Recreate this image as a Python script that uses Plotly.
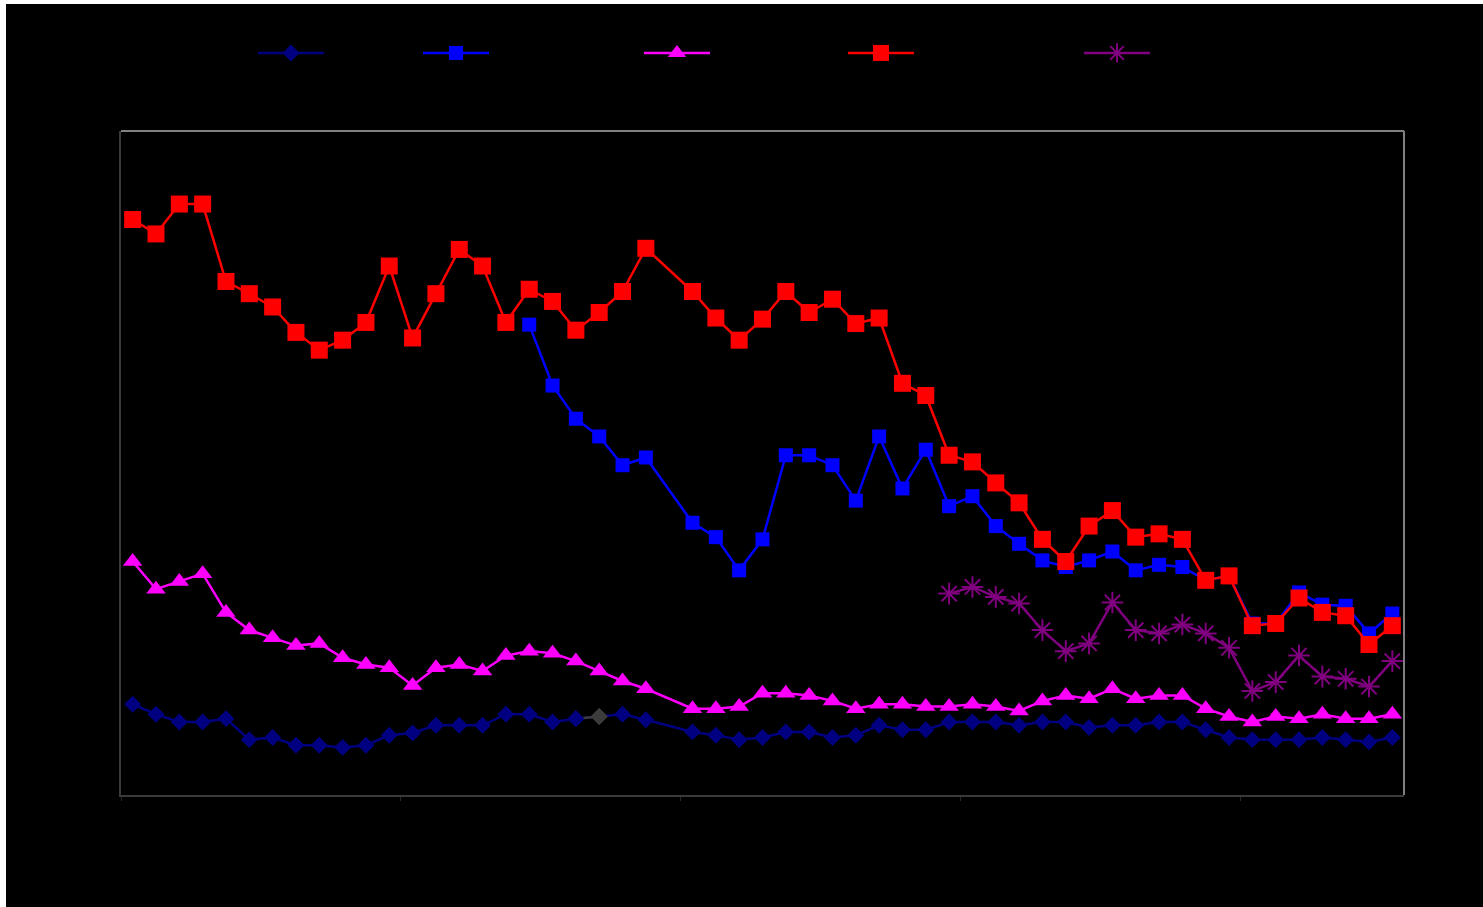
import plotly.graph_objects as go

# ---------------- data ----------------
periods = list(range(55))

series_names = ["Series 1", "Series 2", "Series 3", "Series 4", "Series 5"]

navy_vals = [8.2, 7.3, 6.6, 6.6, 6.9, 5.0, 5.2, 4.5, 4.5, 4.3,
             4.5, 5.4, 5.6, 6.3, 6.3, 6.3, 7.3, 7.3, 6.6, 6.9,
             7.1, 7.3, 6.8, None, 5.7, 5.4, 5.0, 5.2, 5.7, 5.7,
             5.2, 5.4, 6.3, 5.9, 5.9, 6.6, 6.6, 6.6, 6.3, 6.6,
             6.6, 6.1, 6.3, 6.3, 6.6, 6.6, 5.9, 5.2, 5.0, 5.0,
             5.0, 5.2, 5.0, 4.8, 5.2]

blue_vals = [None] * 17 + [42.5, 37.0, 34.0, 32.4, 29.8, 30.5, None,
             24.6, 23.3, 20.3, 23.1, 30.7, 30.7, 29.8, 26.6, 32.4, 27.7,
             31.2, 26.1, 27.0, 24.3, 22.7, 21.2, 20.6, 21.2, 22.0, 20.3,
             20.8, 20.6, 19.4, 19.8, 15.5, 15.5, 18.3, 17.2, 17.1, 14.6, 16.4]

magenta_vals = [21.1, 18.6, 19.3, 20.0, 16.5, 14.9, 14.2, 13.5, 13.7, 12.4,
                11.8, 11.5, 9.9, 11.5, 11.8, 11.2, 12.6, 13.0, 12.8, 12.1,
                11.2, 10.3, 9.6, None, 7.8, 7.8, 8.0, 9.2, 9.2, 9.0,
                8.5, 7.8, 8.2, 8.2, 8.0, 8.0, 8.2, 8.0, 7.6, 8.5,
                9.0, 8.7, 9.6, 8.7, 9.0, 9.0, 7.8, 7.1, 6.6, 7.1,
                6.9, 7.3, 6.9, 6.9, 7.3]

red_vals = [52.0, 50.7, 53.4, 53.4, 46.4, 45.3, 44.1, 41.8, 40.2, 41.1,
            42.7, 47.8, 41.3, 45.3, 49.3, 47.8, 42.7, 45.7, 44.6, 42.0,
            43.6, 45.5, 49.4, None, 45.5, 43.1, 41.1, 43.0, 45.5, 43.6,
            44.8, 42.6, 43.1, 37.2, 36.1, 30.7, 30.1, 28.2, 26.4, 23.1,
            21.1, 24.3, 25.7, 23.3, 23.6, 23.1, 19.4, 19.8, 15.3, 15.5,
            17.8, 16.5, 16.2, 13.6, 15.3]

purple_vals = [None] * 35 + [18.2, 18.8, 17.9, 17.3, 14.9, 13.0, 13.7, 17.4,
               14.9, 14.6, 15.4, 14.6, 13.3, 9.4, 10.2, 12.6, 10.7, 10.5, 9.8, 12.1]

highlight_index = 20          # navy point drawn in dark grey in the reference
y_ticks = [0, 10, 20, 30, 40, 50, 60]
x_tick_bounds = [-0.5, 11.5, 23.5, 35.5, 47.5]

# ---------------- styles ----------------
NAVY, BLUE, MAGENTA, RED, PURPLE, GREY = "#000080", "#0000FF", "#FF00FF", "#FF0000", "#800080", "#3C3C3C"

fig = go.Figure()

navy_colors = [GREY if i == highlight_index else NAVY for i in periods]
fig.add_trace(go.Scatter(x=periods, y=navy_vals, name=series_names[0], mode="lines+markers",
                         connectgaps=True, line=dict(color=NAVY, width=2.5),
                         marker=dict(symbol="diamond", size=13, color=navy_colors),
                         legend="legend"))
# grey segment leading into the highlighted point
seg = slice(highlight_index - 1, highlight_index + 1)
fig.add_trace(go.Scatter(x=periods[seg], y=navy_vals[seg], mode="lines+markers", showlegend=False,
                         line=dict(color=GREY, width=2.5),
                         marker=dict(symbol="diamond", size=13, color=navy_colors[seg]),
                         hoverinfo="skip"))
fig.add_trace(go.Scatter(x=periods, y=blue_vals, name=series_names[1], mode="lines+markers",
                         connectgaps=True, line=dict(color=BLUE, width=2.5),
                         marker=dict(symbol="square", size=14, color=BLUE), legend="legend2"))
fig.add_trace(go.Scatter(x=periods, y=magenta_vals, name=series_names[2], mode="lines+markers",
                         connectgaps=True, line=dict(color=MAGENTA, width=2.5),
                         marker=dict(symbol="triangle-up", size=17, color=MAGENTA), legend="legend3"))
fig.add_trace(go.Scatter(x=periods, y=red_vals, name=series_names[3], mode="lines+markers",
                         connectgaps=True, line=dict(color=RED, width=2.5),
                         marker=dict(symbol="square", size=17, color=RED), legend="legend4"))
fig.add_trace(go.Scatter(x=periods, y=purple_vals, name=series_names[4], mode="lines+markers",
                         connectgaps=True, line=dict(color=PURPLE, width=2.5),
                         marker=dict(symbol="asterisk-open", size=18, color=PURPLE,
                                     line=dict(color=PURPLE, width=2)), legend="legend5"))

W, H = 1477, 903
ML, MR, MT, MB = 115, 79, 127, 112
PW = W - ML - MR
PH = H - MT - MB
ITEM_W = 66

def leg(page_x):
    return dict(x=(page_x - 6 - ML - 38) / PW, xanchor="left",
                y=1 + (MT - 49) / PH, yanchor="middle",
                bgcolor="rgba(0,0,0,0)", font=dict(color="#000000", size=13),
                itemwidth=ITEM_W)

fig.update_layout(
    width=W, height=H,
    margin=dict(l=ML, r=MR, t=MT, b=MB),
    paper_bgcolor="#000000", plot_bgcolor="#000000",
    font=dict(family="Liberation Sans, Arial", color="#000000", size=13),
    legend=leg(291), legend2=leg(456), legend3=leg(677), legend4=leg(881), legend5=leg(1117),
    xaxis=dict(range=[-0.5, 54.5], showgrid=False, zeroline=False,
               showline=True, linecolor="#3A3A3A", linewidth=1.5,
               tickmode="array", tickvals=x_tick_bounds, ticktext=[""] * len(x_tick_bounds),
               ticks="outside", ticklen=4, tickcolor="#2A2A2A"),
    yaxis=dict(range=[0, 60], showgrid=False, zeroline=False,
               showline=True, linecolor="#3A3A3A", linewidth=1.5,
               tickmode="array", tickvals=y_ticks,
               ticks="outside", ticklen=5, tickcolor="#000000",
               tickfont=dict(color="#000000")),
    showlegend=True,
)
# grey plot-area frame (top and right edges)
fig.add_shape(type="line", xref="x domain", yref="y domain", x0=0, x1=1, y0=1, y1=1,
              line=dict(color="#808080", width=2))
fig.add_shape(type="line", xref="x domain", yref="y domain", x0=1, x1=1, y0=0, y1=1,
              line=dict(color="#808080", width=2))

fig.write_html("out.html", post_script="document.body.style.margin='4px 0 0 6px';")
